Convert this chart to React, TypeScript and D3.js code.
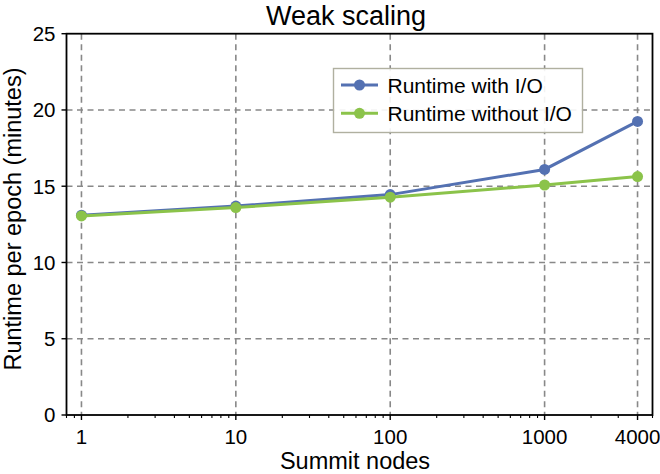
import React from "react";
import * as d3 from "d3";

const nodes = [1, 10, 100, 1000, 4000];
const withIO = [13.1, 13.7, 14.45, 16.1, 19.25];
const withoutIO = [13.05, 13.6, 14.28, 15.08, 15.63];
const xTicks = [1, 10, 100, 1000, 4000];
const yTicks = [0, 5, 10, 15, 20, 25];
const seriesNames = ["Runtime with I/O", "Runtime without I/O"];
const seriesColors = ["#5471b2", "#8bc34a"];

const W = 660, H = 474;
const M = { left: 66.5, right: 652.5, top: 33.7, bottom: 415 };
const FONT = "Liberation Sans, Arial, Helvetica, sans-serif";

export default function App() {
  const x = d3.scaleLog().domain([0.8, 5000]).range([M.left, M.right]);
  const y = d3.scaleLinear().domain([0, 25]).range([M.bottom, M.top]);
  const minor: number[] = [];
  for (let e = -1; e <= 3; e++) {
    for (let k = 2; k <= 9; k++) {
      const v = k * Math.pow(10, e);
      if (v >= 0.8 && v <= 5000 && !xTicks.includes(v)) minor.push(v);
    }
  }
  const line = d3.line<number>().x((_, i) => x(nodes[i])).y((d) => y(d));
  const series = [withIO, withoutIO];
  const lx = 333.5, ly = 68.5, lw = 249, lh = 64;
  return (
    <svg width={W} height={H} style={{ position: "absolute", left: 0, top: 0 }} fontFamily={FONT}>
      <rect width={W} height={H} fill="#fff" />
      {/* grid */}
      {xTicks.map((t) => (
        <line key={"gx" + t} x1={x(t)} x2={x(t)} y1={M.top} y2={M.bottom} stroke="#888" strokeWidth={1.6} strokeDasharray="6,4.5" />
      ))}
      {yTicks.slice(1, -1).map((t) => (
        <line key={"gy" + t} x1={M.left} x2={M.right} y1={y(t)} y2={y(t)} stroke="#888" strokeWidth={1.6} strokeDasharray="6,4.5" />
      ))}
      {/* series */}
      {series.map((s, si) => (
        <g key={"s" + si}>
          <path d={line(s) || ""} fill="none" stroke={seriesColors[si]} strokeWidth={3} />
          {s.map((v, i) => (
            <circle key={i} cx={x(nodes[i])} cy={y(v)} r={5.5} fill={seriesColors[si]} />
          ))}
        </g>
      ))}
      {/* frame */}
      <rect x={M.left} y={M.top} width={M.right - M.left} height={M.bottom - M.top} fill="none" stroke="#000" strokeWidth={1.8} />
      {/* y ticks */}
      {yTicks.map((t) => (
        <g key={"yt" + t}>
          <line x1={M.left - 5} x2={M.left} y1={y(t)} y2={y(t)} stroke="#000" strokeWidth={1.4} />
          <text x={M.left - 11} y={y(t)} dy="0.36em" textAnchor="end" fontSize={20.5}>{t}</text>
        </g>
      ))}
      {/* x ticks */}
      {xTicks.map((t) => (
        <g key={"xt" + t}>
          <line x1={x(t)} x2={x(t)} y1={M.bottom} y2={M.bottom + 5} stroke="#000" strokeWidth={1.4} />
          <text x={x(t)} y={M.bottom + 29} textAnchor="middle" fontSize={20.5}>{t}</text>
        </g>
      ))}
      {minor.map((t) => (
        <line key={"mx" + t} x1={x(t)} x2={x(t)} y1={M.bottom} y2={M.bottom + 3} stroke="#000" strokeWidth={1.1} />
      ))}
      {/* labels */}
      <text x={346} y={25} textAnchor="middle" fontSize={27}>Weak scaling</text>
      <text x={355} y={469} textAnchor="middle" fontSize={23.5}>Summit nodes</text>
      <text transform={`translate(20.5,219) rotate(-90)`} textAnchor="middle" fontSize={23.5}>Runtime per epoch (minutes)</text>
      {/* legend */}
      <rect x={lx} y={ly} width={lw} height={lh} fill="#fff" fillOpacity={0.9} stroke="#b0b0a0" strokeWidth={1.4} />
      {seriesNames.map((n, i) => {
        const yy = 85 + i * 28.3;
        return (
          <g key={"lg" + i}>
            <line x1={341} x2={378} y1={yy} y2={yy} stroke={seriesColors[i]} strokeWidth={3} />
            <circle cx={359.5} cy={yy} r={5.5} fill={seriesColors[i]} />
            <text x={387.5} y={yy} dy="0.36em" fontSize={21}>{n}</text>
          </g>
        );
      })}
    </svg>
  );
}
